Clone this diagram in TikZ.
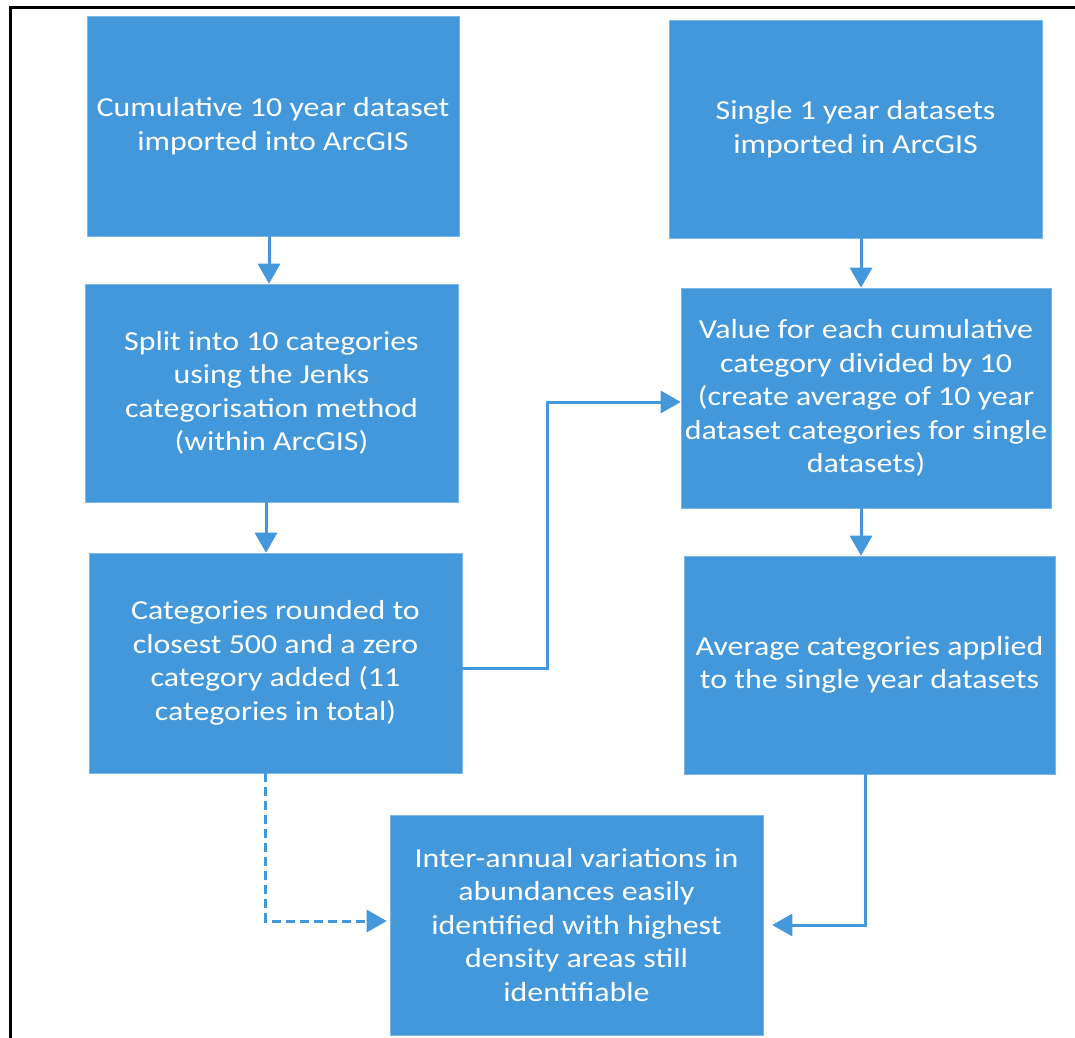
\documentclass[tikz,border=0pt]{standalone}
\usepackage{fontspec}
\setmainfont{Carlito}[FakeStretch=1.16]
\usetikzlibrary{arrows.meta}
\definecolor{boxblue}{HTML}{4298DA}
\begin{document}
\begin{tikzpicture}[x=1pt,y=-1pt,
  box/.style={rectangle, fill=boxblue, draw=boxblue!70!white, line width=0.6pt, inner sep=0pt,
    text=white, align=center, font=\fontsize{27.5}{33.5}\selectfont},
  conn/.style={draw=boxblue, line width=3pt, -{Triangle[length=20pt,width=22pt]}},
  dconn/.style={conn, dash pattern=on 9pt off 5pt}
]
\useasboundingbox (0,0) rectangle (1075,1037);
\fill[white] (0,0) rectangle (1075,1037);
\draw[line width=3pt, line cap=rect] (10,1037) -- (10,7.5) -- (1075,7.5);

\node[box, minimum width=372pt, minimum height=220pt] (b1) at (273,126)
  {Cumulative 10 year dataset\\imported into ArcGIS};
\node[box, minimum width=373pt, minimum height=218pt] (b2) at (855.5,129)
  {Single 1 year datasets\\imported in ArcGIS};
\node[box, minimum width=373pt, minimum height=218pt] (b3) at (271.5,393)
  {Split into 10 categories\\using the Jenks\\categorisation method\\(within ArcGIS)};
\node[box, minimum width=370pt, minimum height=220pt] (b4) at (866,398)
  {Value for each cumulative\\category divided by 10\\(create average of 10 year\\dataset categories for single\\datasets)};
\node[box, minimum width=373pt, minimum height=220pt] (b5) at (275.5,663)
  {Categories rounded to\\closest 500 and a zero\\category added (11\\categories in total)};
\node[box, minimum width=371pt, minimum height=218pt] (b6) at (869.5,665)
  {Average categories applied\\to the single year datasets};
\node[box, minimum width=373pt, minimum height=220pt] (b7) at (576.5,925)
  {Inter-annual variations in\\abundances easily\\identified with highest\\density areas still\\identifiable};

\draw[conn] ([xshift=-4pt]b1.south) -- ([xshift=-4pt]b1.south |- b3.north);
\draw[conn] ([xshift=-5.5pt]b3.south) -- ([xshift=-5.5pt]b3.south |- b5.north);
\draw[conn] ([xshift=5.5pt]b2.south) -- ([xshift=5.5pt]b2.south |- b4.north);
\draw[conn] ([xshift=-5pt]b4.south) -- ([xshift=-5pt]b4.south |- b6.north);
\draw[conn] ([yshift=-5pt]b5.east) -- ++(85,0) |- ([yshift=-4pt]b4.west);
\draw[conn, shorten >=9pt] ([xshift=-4.5pt]b6.south) |- (b7.east);
\draw[dconn, shorten >=3pt] ([xshift=-10pt]b5.south) |- ([yshift=4pt]b7.west);
\end{tikzpicture}
\end{document}
